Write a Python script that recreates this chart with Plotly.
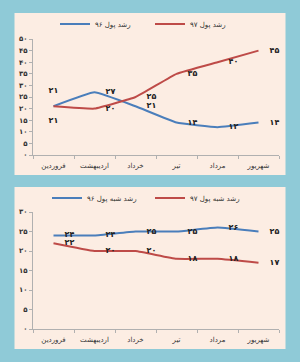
import plotly.graph_objects as go

months = ["فروردین", "اردیبهشت", "خرداد", "تیر", "مرداد", "شهریور"]

# Top chart: money growth
money_96 = [21, 27, 21, 14, 12, 14]
money_97 = [21, 20, 25, 35, 40, 45]
money_96_name = "رشد پول ۹۶"
money_97_name = "رشد پول ۹۷"

# Bottom chart: quasi-money growth
quasi_96 = [24, 24, 25, 25, 26, 25]
quasi_97 = [22, 20, 20, 18, 18, 17]
quasi_96_name = "رشد شبه پول ۹۶"
quasi_97_name = "رشد شبه پول ۹۷"

top_ticks = [0, 5, 10, 15, 20, 25, 30, 35, 40, 45, 50]
bottom_ticks = [0, 5, 10, 15, 20, 25, 30]

FA = str.maketrans("0123456789", "۰۱۲۳۴۵۶۷۸۹")
def fa(v):
    return str(v).translate(FA)

BLUE = "#4a7ebb"
RED = "#be4b48"
TEAL = "#8fcad7"
PEACH = "#fcede3"
FONT = "DejaVu Sans"

fig = go.Figure()

lab_font = dict(family=FONT, size=8, color="#222", weight="bold")
ghost = dict(size=16, color="rgba(0,0,0,0)")

def add(x, y, name, color, pos, xa, ya, leg, sm):
    fig.add_trace(go.Scatter(
        x=x, y=y, name=name, mode="lines+markers+text",
        line=dict(color=color, width=2, shape="spline", smoothing=sm),
        marker=ghost, text=[fa(v) for v in y], textposition=pos,
        textfont=lab_font, xaxis=xa, yaxis=ya, legend=leg, cliponaxis=False))

add(months, money_96, money_96_name, BLUE, ["top center"] + ["middle right"] * 5, "x", "y", "legend", 0.3)
add(months, money_97, money_97_name, RED, ["bottom center"] + ["middle right"] * 5, "x", "y", "legend", 0.3)
add(months, quasi_96, quasi_96_name, BLUE, ["middle right"] * 6, "x2", "y2", "legend2", 0.3)
add(months, quasi_97, quasi_97_name, RED, ["middle right"] * 6, "x2", "y2", "legend2", 0.3)

W, H = 300, 362
def py(pix):
    return 1 - pix / H

xdom = [33 / W, 279 / W]
tick_font = dict(family=FONT, size=7, color="#333")

xcommon = dict(type="category", categoryorder="array", categoryarray=months,
               range=[-0.5, 5.5], showline=True, linecolor="#b0b0b0", linewidth=1,
               ticks="outside", ticklen=3, tickcolor="#b0b0b0", tickson="boundaries",
               showgrid=False, zeroline=False, tickfont=tick_font, automargin=False,
               fixedrange=True, ticklabelstandoff=4, tickangle=0)
ycommon = dict(showline=True, linecolor="#b0b0b0", linewidth=1, ticks="outside",
               ticklen=3, tickcolor="#b0b0b0", showgrid=False, zeroline=False,
               tickfont=dict(family=FONT, size=7, color="#333", weight="bold"),
               automargin=False, fixedrange=True)

leg_font = dict(family=FONT, size=7, color="#333")

fig.update_layout(
    width=W, height=H, margin=dict(l=0, r=0, t=0, b=0),
    paper_bgcolor=TEAL, plot_bgcolor="white", showlegend=True,
    font=dict(family=FONT, size=8, color="#333"),
    xaxis=dict(domain=xdom, anchor="y", **xcommon),
    yaxis=dict(domain=[py(155), py(39)], anchor="x", range=[0, 50],
               tickvals=top_ticks, ticktext=[fa(v) for v in top_ticks], **ycommon),
    xaxis2=dict(domain=xdom, anchor="y2", **xcommon),
    yaxis2=dict(domain=[py(329), py(212)], anchor="x2", range=[0, 30],
                tickvals=bottom_ticks, ticktext=[fa(v) for v in bottom_ticks], **ycommon),
    legend=dict(orientation="h", x=0.5, xanchor="center", y=py(24), yanchor="middle",
                bgcolor="rgba(0,0,0,0)", font=leg_font, itemwidth=30, tracegroupgap=0,
                entrywidth=50, entrywidthmode="pixels"),
    legend2=dict(orientation="h", x=0.5, xanchor="center", y=py(198), yanchor="middle",
                 bgcolor="rgba(0,0,0,0)", font=leg_font, itemwidth=30, tracegroupgap=0,
                 entrywidth=58, entrywidthmode="pixels"),
    shapes=[
        dict(type="rect", xref="paper", yref="paper", x0=14.5 / W, x1=285.5 / W,
             y0=py(175), y1=py(13), fillcolor=PEACH, line=dict(width=0), layer="below"),
        dict(type="rect", xref="paper", yref="paper", x0=14.5 / W, x1=285.5 / W,
             y0=py(349), y1=py(187), fillcolor=PEACH, line=dict(width=0), layer="below"),
    ],
)

fig.write_html("out.html")
